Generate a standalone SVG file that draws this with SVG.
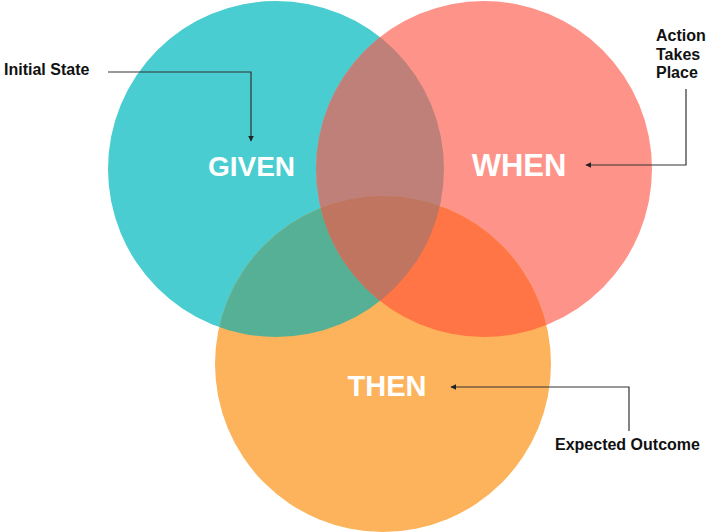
<svg xmlns="http://www.w3.org/2000/svg" width="720" height="532" viewBox="0 0 720 532">
<style>
.big{font-family:"Liberation Sans",Arial,sans-serif;font-weight:bold;font-size:28px;fill:#ffffff;text-anchor:middle}
.lbl{font-family:"Liberation Sans",Arial,sans-serif;font-weight:bold;font-size:16px;fill:#111111}
.conn{fill:none;stroke:#333333;stroke-width:1.2}
</style>
<defs>
<clipPath id="cG"><circle cx="276" cy="169" r="168"/></clipPath>
<clipPath id="cW"><circle cx="484" cy="169" r="168"/></clipPath>
<marker id="arr" viewBox="0 0 10 10" refX="9" refY="5" markerWidth="6" markerHeight="6" markerUnits="userSpaceOnUse" orient="auto">
<path d="M0,0 L10,5 L0,10 Z" fill="#222222"/>
</marker>
</defs>
<rect width="720" height="532" fill="#ffffff"/>
<g id="given"><circle cx="276" cy="169" r="168" fill="#49CDD1"/></g>
<g id="when"><circle cx="484" cy="169" r="168" fill="#FE9389"/></g>
<g id="then"><circle cx="383" cy="364" r="168" fill="#FDB35B"/></g>
<g id="overlaps">
<circle cx="484" cy="169" r="168" fill="#C0807A" clip-path="url(#cG)"/>
<circle cx="383" cy="364" r="168" fill="#55B095" clip-path="url(#cG)"/>
<circle cx="383" cy="364" r="168" fill="#FF7545" clip-path="url(#cW)"/>
<g clip-path="url(#cG)"><circle cx="383" cy="364" r="168" fill="#BF7560" clip-path="url(#cW)"/></g>
</g>
<g id="labels-main">
<text class="big" x="251.5" y="175.5">GIVEN</text>
<text class="big" x="519" y="175.5" style="font-size:31px">WHEN</text>
<text class="big" x="387" y="395.5" style="font-size:29px">THEN</text>
</g>
<g id="connectors">
<path class="conn" d="M108,72 H251 V141" marker-end="url(#arr)"/>
<path class="conn" d="M686,89 V165 H586" marker-end="url(#arr)"/>
<path class="conn" d="M629,431 V387 H451" marker-end="url(#arr)"/>
</g>
<g id="node-initial"><text class="lbl" x="4" y="75">Initial State</text></g>
<g id="node-action">
<text class="lbl" x="656" y="41">Action</text>
<text class="lbl" x="656" y="59.5">Takes</text>
<text class="lbl" x="656" y="78">Place</text>
</g>
<g id="node-expected"><text class="lbl" x="555" y="450">Expected Outcome</text></g>
</svg>
